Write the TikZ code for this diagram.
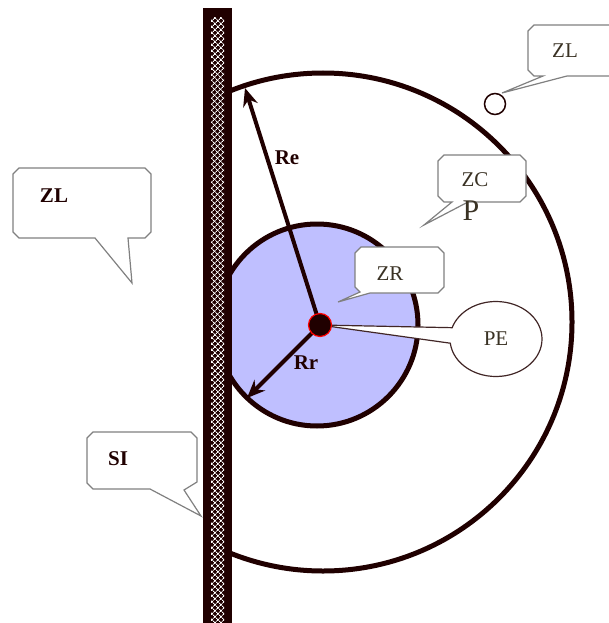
\documentclass[tikz,border=0pt]{standalone}
\usepackage{fontspec}
\setmainfont{Liberation Serif}
\usetikzlibrary{arrows.meta,patterns.meta,shapes.callouts}
\definecolor{ink}{HTML}{200000}
\definecolor{zrfill}{HTML}{BFBFFF}
\definecolor{txt}{HTML}{3A3224}
\tikzset{
	bubble/.style={draw=gray,fill=white,line width=1.2pt},
	lbl/.style={text=txt,font=\fontsize{21}{24}\selectfont},
	blbl/.style={text=ink,font=\fontsize{21}{24}\selectfont\bfseries}
}
\begin{document}
\begin{tikzpicture}[>={Stealth[length=18pt,width=15pt]},x=1pt,y=-1pt]
	\useasboundingbox (0,0) rectangle (609,623);
	\coordinate (ctr) at (320,325);
	\begin{scope}
		\clip (226,0) rectangle (609,623);
		\draw[ink,line width=5pt] (323,322) circle[radius=249pt];
		\draw[ink,line width=5pt,fill=zrfill] (317,325) circle[radius=101pt];
	\end{scope}
	\node[circle,draw=ink,line width=1.5pt,minimum size=21pt,inner sep=0pt] (zlDot) at (495,104) {};
	\coordinate (reTip) at (245,88);
	\coordinate (rrTip) at (247,398);
	\draw[->,ink,line width=4pt] (ctr) -- (reTip);
	\draw[->,ink,line width=4pt] (ctr) -- (rrTip);
	\node[blbl] (re) at (287,158) {Re};
	\node[blbl] (rr) at (306,363) {Rr};
	\draw[bubble] (19,168) -- (145,168) -- (151,174) -- (151,232) -- (145,238) -- (128,238) -- (132,283) -- (95,238) -- (19,238) -- (13,232) -- (13,174) -- cycle;
	\node[blbl] (zlLeft) at (54,196) {ZL};
	\draw[bubble] (534,25) -- (625,25) -- (625,76) -- (567,76) -- (502,93) -- (543,76) -- (534,76) -- (528,70) -- (528,31) -- cycle;
	\node[lbl] (zlRight) at (565,51) {ZL};
	\draw[bubble] (444,155) -- (520,155) -- (526,161) -- (526,196) -- (520,202) -- (468,202) -- (424,225) -- (452,202) -- (444,202) -- (438,196) -- (438,161) -- cycle;
	\node[lbl] (zc) at (475,180) {ZC};
	\node[lbl,font=\fontsize{30}{34}\selectfont] (p) at (471,211) {P};
	\draw[bubble] (361,247) -- (438,247) -- (444,253) -- (444,287) -- (438,293) -- (370,293) -- (338,302) -- (360,292) -- (355,287) -- (355,253) -- cycle;
	\node[lbl] (zr) at (390,274) {ZR};
	\node[ellipse callout,draw=ink!85,fill=white,line width=1.2pt,minimum width=92pt,minimum height=75pt,
		callout absolute pointer=(ctr),callout pointer arc=24,lbl] (pe) at (496,339) {PE};
	\node[circle,fill=ink,draw=red,line width=1.2pt,minimum size=23pt,inner sep=0pt] (dot) at (ctr) {};
	\draw[bubble] (93,432) -- (191,432) -- (197,438) -- (197,482) -- (184,490) -- (201,516) -- (150,489) -- (93,489) -- (87,483) -- (87,438) -- cycle;
	\node[blbl] (si) at (118,459) {SI};
	\fill[ink] (203,8) rectangle (232,630);
	\fill[pattern={Lines[angle=45,distance=4pt,line width=1pt]},pattern color=white] (211,18) rectangle (224,630);
	\fill[pattern={Lines[angle=-45,distance=4pt,line width=1pt]},pattern color=white] (211,18) rectangle (224,630);
\end{tikzpicture}
\end{document}
